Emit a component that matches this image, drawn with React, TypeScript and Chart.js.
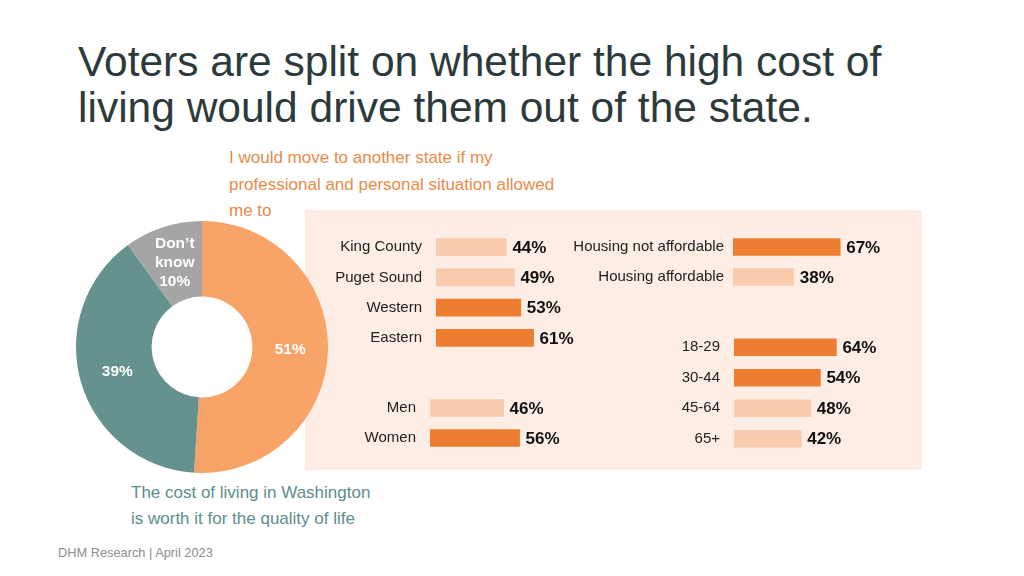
import React, { useEffect, useRef } from "react";
import { Chart, registerables } from "chart.js";

Chart.register(...registerables);

const FONT = '"Liberation Sans", Arial, Helvetica, sans-serif';

// ---- Data ----
const donutCategories = [
  "I would move to another state if my professional and personal situation allowed me to",
  "The cost of living in Washington is worth it for the quality of life",
  "Don’t know",
];
const donutValues = [51, 39, 10];
const donutInnerNames = ["", "", "Don’t\nknow"];

const regionLabels = ["King County", "Puget Sound", "Western", "Eastern"];
const regionValues = [44, 49, 53, 61];

const genderLabels = ["Men", "Women"];
const genderValues = [46, 56];

const housingLabels = ["Housing not affordable", "Housing affordable"];
const housingValues = [67, 38];

const ageLabels = ["18-29", "30-44", "45-64", "65+"];
const ageValues = [64, 54, 48, 42];

// Overall share that would move; bars above it are highlighted
const overallMove = donutValues[0];

// ---- Styles ----
const DONUT_COLORS = ["#F8A469", "#65918F", "#A5A5A5"];
const BAR_DARK = "#ED7D31";
const BAR_LIGHT = "#F8CBAD";
const PLOT_W = 160;

const valueLabelPlugin = {
  id: "valueLabels",
  afterDatasetsDraw(chart: any) {
    const ctx = chart.ctx;
    const meta = chart.getDatasetMeta(0);
    const data = chart.data.datasets[0].data;
    ctx.save();
    ctx.font = `bold 17px ${FONT}`;
    ctx.fillStyle = "#111111";
    ctx.textAlign = "left";
    ctx.textBaseline = "middle";
    meta.data.forEach((bar: any, i: number) => {
      ctx.fillText(`${data[i]}%`, bar.x + 6, bar.y + 1);
    });
    ctx.restore();
  },
};

const donutLabelPlugin = {
  id: "donutLabels",
  afterDatasetsDraw(chart: any) {
    const ctx = chart.ctx;
    const meta = chart.getDatasetMeta(0);
    const data = chart.data.datasets[0].data;
    ctx.save();
    ctx.font = `bold 15.5px ${FONT}`;
    ctx.fillStyle = "#FFFFFF";
    ctx.textAlign = "center";
    ctx.textBaseline = "middle";
    meta.data.forEach((arc: any, i: number) => {
      const p = arc.getCenterPoint();
      const name = donutInnerNames[i];
      const lines = name ? [...name.split("\n"), `${data[i]}%`] : [`${data[i]}%`];
      const lh = 19;
      const startY = p.y - ((lines.length - 1) * lh) / 2;
      lines.forEach((ln, k) => ctx.fillText(ln, p.x, startY + k * lh));
    });
    ctx.restore();
  },
};

function Donut() {
  const ref = useRef<HTMLCanvasElement>(null);
  useEffect(() => {
    const chart = new Chart(ref.current as HTMLCanvasElement, {
      type: "doughnut",
      data: {
        labels: donutCategories,
        datasets: [
          {
            data: donutValues,
            backgroundColor: DONUT_COLORS,
            borderWidth: 0,
          },
        ],
      },
      options: {
        responsive: false,
        maintainAspectRatio: false,
        animation: false,
        cutout: "40%",
        layout: { padding: 0 },
        plugins: { legend: { display: false }, tooltip: { enabled: false } },
      },
      plugins: [donutLabelPlugin],
    } as any);
    return () => chart.destroy();
  }, []);
  return (
    <canvas
      ref={ref}
      width={252}
      height={252}
      style={{ position: "absolute", left: 76, top: 221, width: 252, height: 252 }}
    />
  );
}

function BarGroup(props: {
  labels: string[];
  values: number[];
  left: number;
  top: number;
  axisWidth: number;
  padding: number;
  height: number;
}) {
  const { labels, values, left, top, axisWidth, padding, height } = props;
  const ref = useRef<HTMLCanvasElement>(null);
  const width = axisWidth + PLOT_W;
  useEffect(() => {
    const chart = new Chart(ref.current as HTMLCanvasElement, {
      type: "bar",
      data: {
        labels,
        datasets: [
          {
            data: values,
            backgroundColor: values.map((v) => (v > overallMove ? BAR_DARK : BAR_LIGHT)),
            borderWidth: 0,
            barThickness: 17,
          },
        ],
      },
      options: {
        indexAxis: "y",
        responsive: false,
        maintainAspectRatio: false,
        animation: false,
        layout: { padding: 0 },
        plugins: { legend: { display: false }, tooltip: { enabled: false } },
        scales: {
          x: { display: false, min: 0, max: 100 },
          y: {
            grid: { display: false, drawTicks: false },
            border: { display: false },
            ticks: {
              padding,
              autoSkip: false,
              color: "#222222",
              font: { family: FONT, size: 15 },
            },
            afterFit: (s: any) => {
              s.width = axisWidth;
              s.paddingTop = 0;
              s.paddingBottom = 0;
            },
          },
        },
      },
      plugins: [valueLabelPlugin],
    } as any);
    return () => chart.destroy();
  }, []);
  return (
    <canvas
      ref={ref}
      width={width}
      height={height}
      style={{ position: "absolute", left, top, width, height }}
    />
  );
}

export default function App() {
  return (
    <div
      style={{
        position: "absolute",
        left: 0,
        top: 0,
        width: 1024,
        height: 576,
        background: "#FFFFFF",
        overflow: "hidden",
        fontFamily: FONT,
      }}
    >
      <div
        style={{
          position: "absolute",
          left: 78,
          top: 39,
          fontSize: 42.5,
          lineHeight: "45.5px",
          color: "#2C3A3B",
          whiteSpace: "nowrap",
        }}
      >
        Voters are split on whether the high cost of
        <br />
        living would drive them out of the state.
      </div>

      <div
        style={{
          position: "absolute",
          left: 229,
          top: 145,
          fontSize: 17,
          lineHeight: "26.5px",
          color: "#EA8A49",
          whiteSpace: "nowrap",
        }}
      >
        I would move to another state if my
        <br />
        professional and personal situation allowed
        <br />
        me to
      </div>

      <div
        style={{
          position: "absolute",
          left: 305,
          top: 210,
          width: 617,
          height: 260,
          background: "#FDEDE4",
        }}
      />

      <Donut />

      <BarGroup labels={regionLabels} values={regionValues} left={300} top={232} axisWidth={136} padding={14} height={121} />
      <BarGroup labels={genderLabels} values={genderValues} left={300} top={393} axisWidth={130} padding={14} height={60} />
      <BarGroup labels={housingLabels} values={housingValues} left={560} top={232} axisWidth={173} padding={9} height={60} />
      <BarGroup labels={ageLabels} values={ageValues} left={560} top={332} axisWidth={174} padding={14} height={122} />

      <div
        style={{
          position: "absolute",
          left: 131,
          top: 480,
          fontSize: 17,
          lineHeight: "26px",
          color: "#5B8E8C",
          whiteSpace: "nowrap",
        }}
      >
        The cost of living in Washington
        <br />
        is worth it for the quality of life
      </div>

      <div
        style={{
          position: "absolute",
          left: 58,
          top: 545,
          fontSize: 12.8,
          lineHeight: "15px",
          color: "#8C8C8C",
          whiteSpace: "nowrap",
        }}
      >
        DHM Research | April 2023
      </div>
    </div>
  );
}
